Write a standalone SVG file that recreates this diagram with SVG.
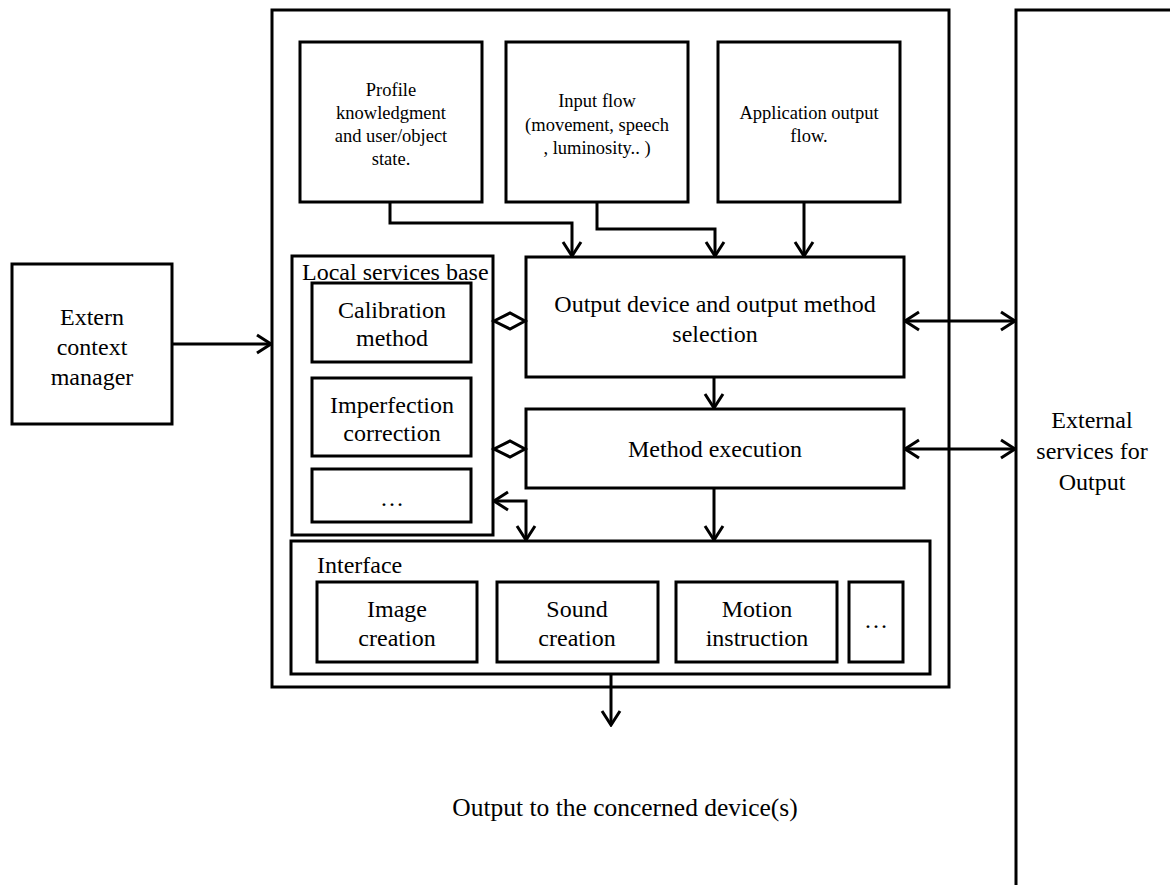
<svg xmlns="http://www.w3.org/2000/svg" width="1170" height="885" viewBox="0 0 1170 885">
  <style>
    .box { fill: #fff; stroke: #000; stroke-width: 3; }
    .frame { fill: none; stroke: #000; stroke-width: 3; }
    .line { fill: none; stroke: #000; stroke-width: 3; }
    .t { font-family: "Liberation Serif", "Times New Roman", serif; fill: #000; text-anchor: middle; }
    .s { font-size: 18.5px; }
    .m { font-size: 24px; }
    .b { font-size: 25.5px; }
    .l { text-anchor: start; }
  </style>
  <defs>
    <marker id="arrow" viewBox="-16 -11 18 22" refX="0" refY="0" markerWidth="18" markerHeight="22" markerUnits="userSpaceOnUse" orient="auto-start-reverse">
      <path d="M-14,-9 L0,0 L-14,9" fill="none" stroke="#000" stroke-width="3"/>
    </marker>
  </defs>

  <rect width="1170" height="885" fill="#fff"/>

  <!-- main output module frame -->
  <g id="output-module">
    <rect class="frame" x="272" y="10" width="677" height="677"/>
  </g>

  <!-- external services column -->
  <g id="external-services">
    <path class="line" d="M1016,890 L1016,10 L1175,10"/>
    <text class="t m" x="1092" y="428">External</text>
    <text class="t m" x="1092" y="459">services for</text>
    <text class="t m" x="1092" y="490">Output</text>
  </g>

  <g id="extern-context">
    <rect class="box" x="12" y="264" width="160" height="160"/>
    <text class="t m" x="92" y="325">Extern</text>
    <text class="t m" x="92" y="355">context</text>
    <text class="t m" x="92" y="385">manager</text>
  </g>

  <g id="profile">
    <rect class="box" x="300" y="42" width="182" height="160"/>
    <text class="t s" x="391" y="96">Profile</text>
    <text class="t s" x="391" y="119">knowledgment</text>
    <text class="t s" x="391" y="142">and user/object</text>
    <text class="t s" x="391" y="165">state.</text>
  </g>

  <g id="input-flow">
    <rect class="box" x="506" y="42" width="182" height="160"/>
    <text class="t s" x="597" y="107">Input flow</text>
    <text class="t s" x="597" y="131">(movement, speech</text>
    <text class="t s" x="597" y="154">, luminosity.. )</text>
  </g>

  <g id="application-output">
    <rect class="box" x="718" y="42" width="182" height="160"/>
    <text class="t s" x="809" y="119">Application output</text>
    <text class="t s" x="809" y="142">flow.</text>
  </g>

  <g id="local-services">
    <rect class="box" x="292" y="256" width="201" height="279"/>
    <text class="t m l" x="302" y="280">Local services base</text>
  </g>

  <g id="calibration">
    <rect class="box" x="312" y="283" width="159" height="79"/>
    <text class="t m" x="392" y="318">Calibration</text>
    <text class="t m" x="392" y="346">method</text>
  </g>

  <g id="imperfection">
    <rect class="box" x="312" y="378" width="159" height="78"/>
    <text class="t m" x="392" y="413">Imperfection</text>
    <text class="t m" x="392" y="441">correction</text>
  </g>

  <g id="local-more">
    <rect class="box" x="312" y="469" width="159" height="53"/>
    <text class="t m" x="392" y="506">…</text>
  </g>

  <g id="selection">
    <rect class="box" x="526" y="257" width="378" height="120"/>
    <text class="t m" x="715" y="312">Output device and output method</text>
    <text class="t m" x="715" y="342">selection</text>
  </g>

  <g id="execution">
    <rect class="box" x="526" y="409" width="378" height="79"/>
    <text class="t m" x="715" y="457">Method execution</text>
  </g>

  <g id="interface">
    <rect class="box" x="291" y="541" width="639" height="133"/>
    <text class="t m l" x="317" y="573">Interface</text>
  </g>

  <g id="image-creation">
    <rect class="box" x="317" y="582" width="160" height="80"/>
    <text class="t m" x="397" y="617">Image</text>
    <text class="t m" x="397" y="646">creation</text>
  </g>

  <g id="sound-creation">
    <rect class="box" x="497" y="582" width="161" height="80"/>
    <text class="t m" x="577" y="617">Sound</text>
    <text class="t m" x="577" y="646">creation</text>
  </g>

  <g id="motion-instruction">
    <rect class="box" x="676" y="582" width="161" height="80"/>
    <text class="t m" x="757" y="617">Motion</text>
    <text class="t m" x="757" y="646">instruction</text>
  </g>

  <g id="interface-more">
    <rect class="box" x="849" y="582" width="54" height="80"/>
    <text class="t m" x="876" y="628">…</text>
  </g>

  <g id="device-output-label">
    <text class="t b" x="625" y="816">Output to the concerned device(s)</text>
  </g>

  <!-- connectors -->
  <g id="connectors">
    <path class="line" d="M172,344 L271,344" marker-end="url(#arrow)"/>
    <path class="line" d="M390,202 L390,223 L572,223 L572,256" marker-end="url(#arrow)"/>
    <path class="line" d="M597,202 L597,229 L715,229 L715,256" marker-end="url(#arrow)"/>
    <path class="line" d="M804,202 L804,256" marker-end="url(#arrow)"/>
    <path class="line" d="M714,377 L714,408" marker-end="url(#arrow)"/>
    <path class="line" d="M714,488 L714,540" marker-end="url(#arrow)"/>
    <path class="line" d="M494,501 L526,501 L526,540" marker-start="url(#arrow)" marker-end="url(#arrow)"/>
    <path class="line" d="M905,321 L1015,321" marker-start="url(#arrow)" marker-end="url(#arrow)"/>
    <path class="line" d="M905,449 L1015,449" marker-start="url(#arrow)" marker-end="url(#arrow)"/>
    <path class="line" d="M611,674 L611,725" marker-end="url(#arrow)"/>
    <polygon class="box" points="494,321 510,313 525,321 510,329"/>
    <polygon class="box" points="494,449 510,441 525,449 510,457"/>
  </g>
</svg>
